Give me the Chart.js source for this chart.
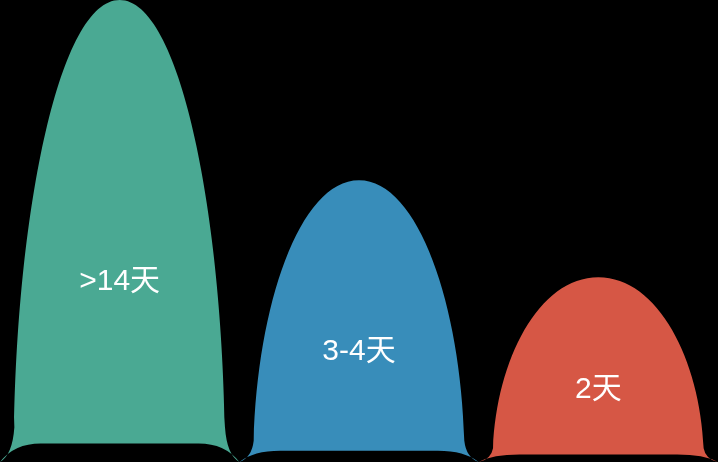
<!DOCTYPE html>
<html>
<head>
<meta charset="utf-8">
<script src="https://cdn.jsdelivr.net/npm/chart.js@4"></script>
<style>
html,body{margin:0;padding:0;background:#000;}
#wrap{width:718px;height:462px;position:relative;}
</style>
</head>
<body>
<div id="wrap"><canvas id="c"></canvas></div>
<script>
const categories = [">14天", "3-4天", "2天"];
const values = [100, 61, 40];
const colors = ["#4aa993", "#388dba", "#d65745"];

const shapePlugin = {
  id: 'shapePlugin',
  beforeDraw(chart) {
    const ctx = chart.ctx;
    ctx.save();
    ctx.fillStyle = '#000';
    ctx.fillRect(0, 0, chart.width, chart.height);
    ctx.restore();
  },
  beforeDatasetDraw() { return false; },
  afterDatasetsDraw(chart) {
    const ctx = chart.ctx;
    const meta = chart.getDatasetMeta(0);
    meta.data.forEach((el, i) => {
      const p = el.getProps(['x', 'y', 'base', 'width'], true);
      const w = p.width, T = p.y, H = p.base - p.y, cx = p.x;
      const P = (u, v) => [cx + u * w, T + v * H];
      const q = (c, e) => { const C = P(c[0], c[1]), E = P(e[0], e[1]); ctx.quadraticCurveTo(C[0], C[1], E[0], E[1]); };
      const b = (c1, c2, e) => { const A = P(c1[0], c1[1]), B = P(c2[0], c2[1]), E = P(e[0], e[1]); ctx.bezierCurveTo(A[0], A[1], B[0], B[1], E[0], E[1]); };
      ctx.save();
      ctx.beginPath();
      const s = P(-0.5, 1);
      ctx.moveTo(s[0], s[1]);
      q([-0.448, 0.985], [-0.44, 0.925]);
      b([-0.425, 0.45], [-0.25, 0], [0, 0]);
      b([0.25, 0], [0.425, 0.45], [0.44, 0.925]);
      q([0.448, 0.985], [0.5, 1]);
      q([0.44, 0.96], [0.33, 0.96]);
      const l = P(-0.33, 0.96);
      ctx.lineTo(l[0], l[1]);
      q([-0.44, 0.96], [-0.5, 1]);
      ctx.closePath();
      ctx.fillStyle = colors[i];
      ctx.fill();
      const t = P(0, 0.61);
      ctx.fillStyle = '#fff';
      ctx.font = '30px "Liberation Sans", "Noto Sans CJK SC", sans-serif';
      ctx.textAlign = 'center';
      ctx.textBaseline = 'middle';
      ctx.fillText(categories[i], t[0], t[1]);
      ctx.restore();
    });
  }
};

new Chart(document.getElementById('c'), {
  type: 'bar',
  data: {
    labels: categories,
    datasets: [{ data: values, backgroundColor: colors, barPercentage: 1, categoryPercentage: 1 }]
  },
  options: {
    responsive: true,
    maintainAspectRatio: false,
    animation: false,
    layout: { padding: 0 },
    plugins: { legend: { display: false }, tooltip: { enabled: false } },
    scales: {
      x: { display: false },
      y: { display: false, min: 0, max: 100 }
    }
  },
  plugins: [shapePlugin]
});
</script>
</body>
</html>
